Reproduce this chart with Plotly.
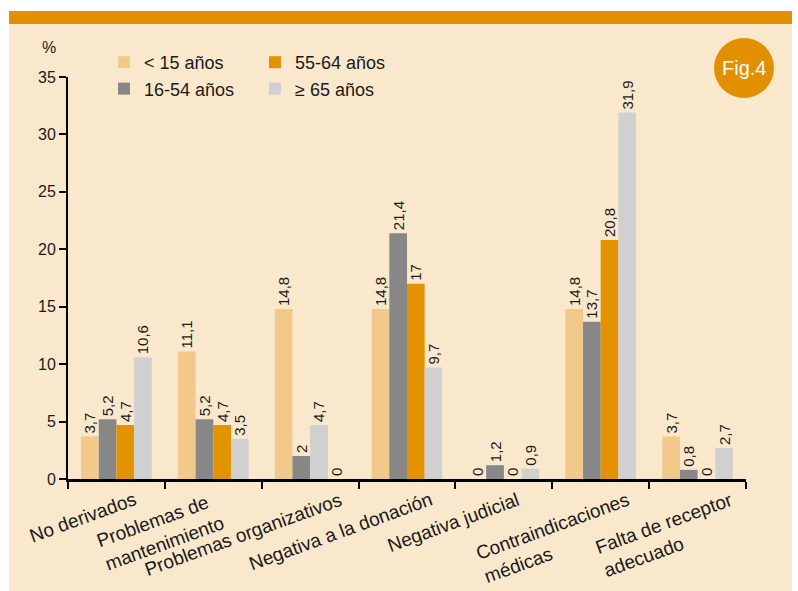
import plotly.graph_objects as go

categories = ["No derivados", "Problemas de<br>mantenimiento", "Problemas organizativos",
              "Negativa a la donación", "Negativa judicial", "Contraindicaciones<br>médicas",
              "Falta de receptor<br>adecuado"]
series_names = ["< 15 años", "16-54 años", "55-64 años", "≥ 65 años"]
lt15 = [3.7, 11.1, 14.8, 14.8, 0, 14.8, 3.7]
a16_54 = [5.2, 5.2, 2, 21.4, 1.2, 13.7, 0.8]
a55_64 = [4.7, 4.7, 4.7, 17, 0, 20.8, 0]
ge65 = [10.6, 3.5, 0, 9.7, 0.9, 31.9, 2.7]
y_ticks = [0, 5, 10, 15, 20, 25, 30, 35]

# horizontal nudges (px) of the rotated category labels, as laid out in the original
label_nudge = [25, 16, 37, 30, 20, 43, 49]

C_LT15 = "#F3C98B"
C_1654 = "#878787"
C_5564 = "#E39200"
C_GE65 = "#D0D0D1"
BEIGE = "#FAE8CD"
ORANGE = "#E39000"
TXT = "#1a1a1a"
FONT = "Liberation Sans, Arial, sans-serif"


def fmt(v):
    return f"{v:g}".replace(".", ",")


W, H = 798, 591
L, R, T, B = 68, 52, 77, 112
PW, PH = W - L - R, H - T - B


def px(xp):
    return (xp - L) / PW


def py(yp):
    return (H - B - yp) / PH


fig = go.Figure()
vals = [lt15, a16_54, a55_64, ge65]
cols = [C_LT15, C_1654, [C_5564, C_5564, C_GE65, C_5564, C_5564, C_5564, C_5564], C_GE65]
legends = ["legend", "legend", "legend2", "legend2"]
for name, v, c, lg in zip(series_names, vals, cols, legends):
    fig.add_trace(go.Bar(
        name=name, x=categories, y=v, marker=dict(color=c, line=dict(width=0)),
        text=[fmt(a) for a in v], textposition="outside", textangle=-90,
        constraintext="none", cliponaxis=False,
        textfont=dict(size=15, color=TXT, family=FONT), legend=lg,
    ))

leg_common = dict(xref="container", yref="container", xanchor="left", yanchor="top",
                  bgcolor="rgba(0,0,0,0)", font=dict(size=18, color=TXT, family=FONT),
                  traceorder="normal")

annotations = [
    dict(text="%", xref="paper", yref="paper", x=px(49), y=py(47), showarrow=False,
         xanchor="center", yanchor="middle", font=dict(size=16, color=TXT)),
    dict(text="Fig.4", xref="paper", yref="paper", x=px(744), y=py(68), showarrow=False,
         xanchor="center", yanchor="middle", font=dict(size=20, color="white")),
]
for cat, dx in zip(categories, label_nudge):
    annotations.append(dict(
        text=cat, xref="x", yref="paper", x=cat, y=py(486), xshift=dx,
        showarrow=False, textangle=-20, xanchor="right", yanchor="top", align="left",
        font=dict(size=19, color=TXT, family=FONT)))

fig.update_layout(
    width=W, height=H,
    margin=dict(l=L, r=R, t=T, b=B, autoexpand=False),
    paper_bgcolor="white", plot_bgcolor="rgba(0,0,0,0)",
    font=dict(family=FONT, color=TXT, size=16),
    barmode="group", bargap=0.27, bargroupgap=0,
    legend=dict(x=104 / W, y=1 - 44 / H, **leg_common),
    legend2=dict(x=255 / W, y=1 - 44 / H, **leg_common),
    xaxis=dict(range=[-0.5, len(categories) - 0.5], autorange=False,
               showline=True, linewidth=3, linecolor="black", ticks="outside",
               tickson="boundaries", ticklen=7, tickwidth=2, tickcolor="black",
               showticklabels=False, showgrid=False, automargin=False),
    yaxis=dict(range=[0, 35], tickvals=y_ticks, showline=True, linewidth=2,
               linecolor="black", ticks="outside", ticklen=7, tickwidth=2,
               tickcolor="black", showgrid=False, zeroline=False,
               tickfont=dict(size=16, color=TXT), automargin=False),
    shapes=[
        dict(type="rect", xref="paper", yref="paper", x0=px(9), x1=px(792), y0=py(591), y1=py(24),
             fillcolor=BEIGE, line=dict(width=0), layer="below"),
        dict(type="rect", xref="paper", yref="paper", x0=px(9), x1=px(792), y0=py(24), y1=py(11),
             fillcolor=ORANGE, line=dict(width=0), layer="below"),
        dict(type="circle", xref="paper", yref="paper", x0=px(714), x1=px(774), y0=py(98), y1=py(38),
             fillcolor=ORANGE, line=dict(width=0), layer="above"),
    ],
    annotations=annotations,
)

fig.write_html("out.html")
